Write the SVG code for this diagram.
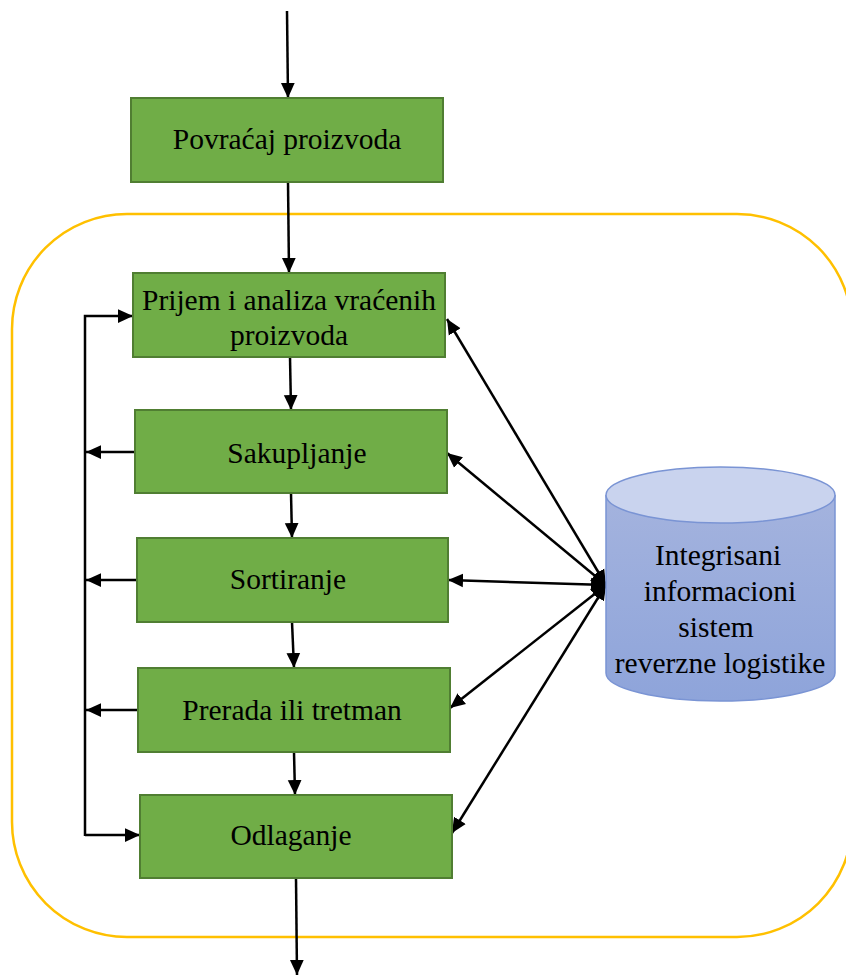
<svg xmlns="http://www.w3.org/2000/svg" width="846" height="975" viewBox="0 0 846 975">
<style>
.box{fill:#70ad47;stroke:#507e32;stroke-width:2}
.t{font-family:"Liberation Serif","Times New Roman",serif;font-size:29.5px;fill:#000;text-anchor:middle}
.c{fill:none;stroke:#000;stroke-width:2.5}
</style>
<defs>
<marker id="ah" viewBox="0 0 12 12" refX="12" refY="6" markerWidth="15" markerHeight="15" markerUnits="userSpaceOnUse" orient="auto-start-reverse">
<path d="M0,0.5 L12,6 L0,11.5 Z" fill="#000"/>
</marker>
<linearGradient id="cyl" x1="0" y1="0" x2="0" y2="1">
<stop offset="0" stop-color="#a4b3de"/>
<stop offset="1" stop-color="#8ea4da"/>
</linearGradient>
</defs>
<rect x="12" y="214" width="840" height="723" rx="115" ry="115" fill="none" stroke="#ffc000" stroke-width="2.5"/>
<g id="connectors">
<line class="c" x1="287" y1="11" x2="288" y2="98" marker-end="url(#ah)"/>
<line class="c" x1="288" y1="182" x2="289" y2="273" marker-end="url(#ah)"/>
<line class="c" x1="290" y1="357" x2="291" y2="410" marker-end="url(#ah)"/>
<line class="c" x1="291" y1="493" x2="292" y2="538" marker-end="url(#ah)"/>
<line class="c" x1="292" y1="622" x2="294" y2="668" marker-end="url(#ah)"/>
<line class="c" x1="294" y1="752" x2="295" y2="795" marker-end="url(#ah)"/>
<line class="c" x1="296" y1="878" x2="297" y2="975" marker-end="url(#ah)"/>
<polyline class="c" points="85,836 85,316 133,316" marker-end="url(#ah)"/>
<line class="c" x1="135" y1="452" x2="86" y2="452" marker-end="url(#ah)"/>
<line class="c" x1="137" y1="580" x2="86" y2="580" marker-end="url(#ah)"/>
<line class="c" x1="138" y1="710" x2="86" y2="710" marker-end="url(#ah)"/>
<line class="c" x1="85" y1="835" x2="140" y2="835" marker-end="url(#ah)"/>
<line class="c" x1="606" y1="585" x2="447" y2="319" marker-start="url(#ah)" marker-end="url(#ah)"/>
<line class="c" x1="606" y1="585" x2="447" y2="453" marker-start="url(#ah)" marker-end="url(#ah)"/>
<line class="c" x1="606" y1="585" x2="448" y2="580" marker-start="url(#ah)" marker-end="url(#ah)"/>
<line class="c" x1="606" y1="585" x2="450" y2="708" marker-start="url(#ah)" marker-end="url(#ah)"/>
<line class="c" x1="606" y1="585" x2="452" y2="833" marker-start="url(#ah)" marker-end="url(#ah)"/>
</g>
<g id="povracaj">
<rect class="box" x="131" y="98" width="312" height="84"/>
<text class="t" x="287" y="149">Povraćaj proizvoda</text>
</g>
<g id="prijem">
<rect class="box" x="133" y="273" width="312" height="84"/>
<text class="t" x="289" y="310">Prijem i analiza vraćenih</text>
<text class="t" x="289" y="345">proizvoda</text>
</g>
<g id="sakupljanje">
<rect class="box" x="135" y="410" width="312" height="83"/>
<text class="t" x="297" y="463">Sakupljanje</text>
</g>
<g id="sortiranje">
<rect class="box" x="137" y="538" width="311" height="84"/>
<text class="t" x="288" y="589">Sortiranje</text>
</g>
<g id="prerada">
<rect class="box" x="138" y="668" width="312" height="84"/>
<text class="t" x="292" y="720">Prerada ili tretman</text>
</g>
<g id="odlaganje">
<rect class="box" x="140" y="795" width="312" height="83"/>
<text class="t" x="291" y="845">Odlaganje</text>
</g>
<g id="sistem">
<path d="M606,495 L606,673 A114.5,28 0 0 0 835,673 L835,495" fill="url(#cyl)" stroke="#7a94d4" stroke-width="1.5"/>
<ellipse cx="720.5" cy="495" rx="114.5" ry="28" fill="#c9d3ee" stroke="#7a94d4" stroke-width="1.5"/>
<text class="t" x="718" y="565">Integrisani</text>
<text class="t" x="720" y="601">informacioni</text>
<text class="t" x="716" y="637">sistem</text>
<text class="t" x="720" y="673">reverzne logistike</text>
</g>
</svg>
